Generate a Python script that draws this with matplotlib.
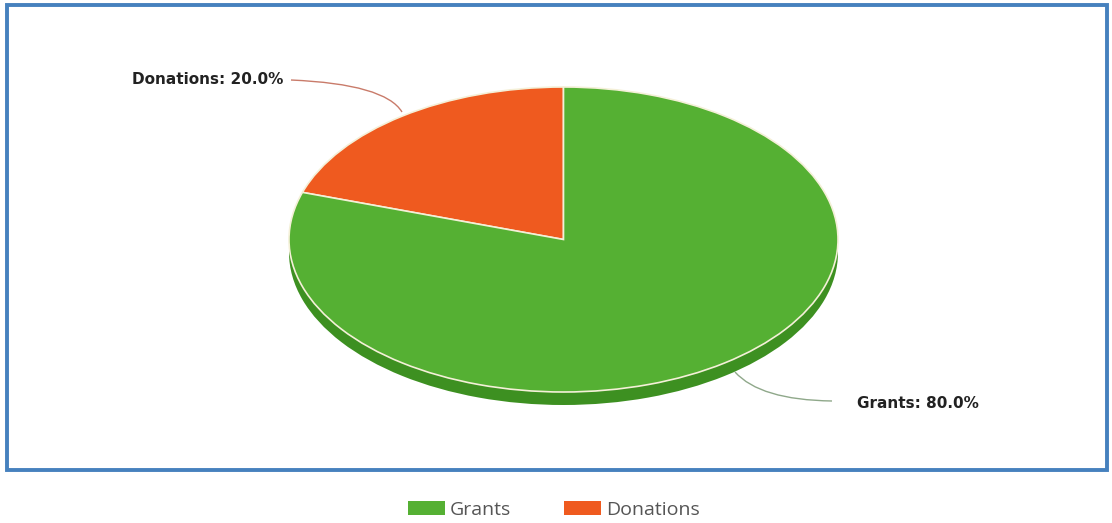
import matplotlib
matplotlib.use("Agg")
import matplotlib.pyplot as plt
from matplotlib.patches import Rectangle, Patch, PathPatch
from matplotlib.path import Path

categories = ["Grants", "Donations"]
values = [80.0, 20.0]
colors = ["#55B033", "#EF5A1F"]
rim_colors = ["#3D9021", "#C8481A"]
label_texts = [f"{c}: {v:.1f}%" for c, v in zip(categories, values)]

W, H = 1112, 523
fig = plt.figure(figsize=(W / 100, H / 100), dpi=100)
fig.patch.set_facecolor("white")

# pie geometry (pixels)
cx, cy, rx, ry, depth = 563.5, 239.5, 274.5, 152.5, 13

ax = fig.add_axes([0, 0, 1, 1])

# Donations from 90 deg counter-clockwise, then Grants
order = [1, 0]
vals = [values[i] for i in order]
# rim (shifted pie)
ax.pie(vals, colors=[rim_colors[i] for i in order], startangle=90, counterclock=True,
       center=(0, -depth / ry), radius=1.0, frame=True,
       wedgeprops=dict(linewidth=0))
# top face
ax.pie(vals, colors=[colors[i] for i in order], startangle=90, counterclock=True,
       center=(0, 0), radius=1.0, frame=True,
       wedgeprops=dict(linewidth=1.2, edgecolor="#F4F0D8"))
ax.set_xlim(-cx / rx, (W - cx) / rx)
ax.set_ylim(-(H - cy) / ry, cy / ry)
ax.set_aspect("auto")
ax.axis("off")

# overlay in pixel coords
ov = fig.add_axes([0, 0, 1, 1], facecolor="none")
ov.set_xlim(0, W)
ov.set_ylim(H, 0)
ov.axis("off")

# border
ov.add_patch(Rectangle((7, 5), 1100, 465, fill=False, edgecolor="#4681BE", linewidth=2.8))

# leader lines
p1 = Path([(291, 80), (385, 84), (402, 112)], [Path.MOVETO, Path.CURVE3, Path.CURVE3])
ov.add_patch(PathPatch(p1, fill=False, edgecolor="#C97B6A", linewidth=1.0))
p2 = Path([(735, 372), (760, 400), (832, 401)], [Path.MOVETO, Path.CURVE3, Path.CURVE3])
ov.add_patch(PathPatch(p2, fill=False, edgecolor="#8FA88A", linewidth=1.0))

ov.text(283, 80, label_texts[1], ha="right", va="center", fontsize=11,
        fontweight="bold", family="DejaVu Sans", color="#222222")
ov.text(857, 403, label_texts[0], ha="left", va="center", fontsize=11,
        fontweight="bold", family="DejaVu Sans", color="#222222")

handles = [Patch(facecolor=colors[i], edgecolor="none") for i in range(2)]
leg = fig.legend(handles, categories, loc="center", bbox_to_anchor=(554 / W, 1 - 510 / H),
                 ncol=2, frameon=False, handlelength=1.9, handleheight=0.75,
                 columnspacing=2.7, handletextpad=0.25,
                 prop={"family": "Open Sans", "size": 14})
for t in leg.get_texts():
    t.set_color("#555555")

fig.savefig("out.png", dpi=100)
